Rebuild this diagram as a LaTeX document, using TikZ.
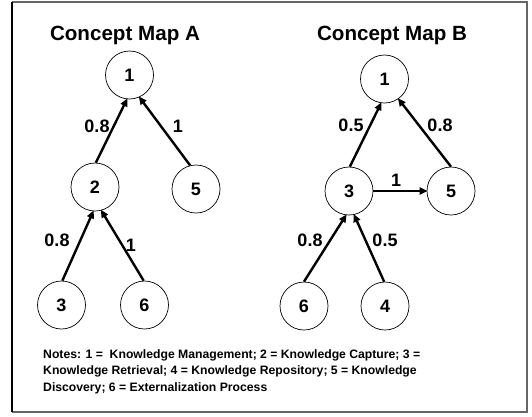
\documentclass[tikz,border=0pt]{standalone}
\usepackage{fontspec}
\setmainfont{Liberation Sans}
\usetikzlibrary{arrows.meta}
\begin{document}
\begin{tikzpicture}[x=1pt,y=-1pt,
  concept/.style={circle,draw,line width=0.7pt,minimum size=48pt,inner sep=0pt,
    font=\fontsize{18}{18}\selectfont\bfseries},
  link/.style={line width=2.4pt,-{Triangle[length=8pt,width=7pt]},shorten >=-1pt},
  weight/.style={font=\fontsize{18}{18}\selectfont\bfseries,inner sep=0pt},
  maptitle/.style={font=\fontsize{20.6}{20.6}\selectfont\bfseries,inner sep=0pt,anchor=base}]
\useasboundingbox (0,0) rectangle (532,416);
% frame
\draw[line width=1.3pt,gray!80!black] (12,2) -- (527,2) -- (527,412) -- (12,412);
\draw[line width=1.3pt,black] (12,2) -- (12,412);

% map A
\node[maptitle] (ta) at (125,40) {Concept Map A};
\node[concept] (a1) at (129.5,75) {1};
\node[concept] (a2) at (95,187) {2};
\node[concept] (a5) at (196,189) {5};
\node[concept] (a3) at (61.5,305) {3};
\node[concept] (a6) at (144.5,305) {6};
\draw[link] (a2.88) -- (a1.-96);
\draw[link] (a5.104) -- (a1.-66);
\draw[link] (a3.88) -- (a2.-94);
\draw[link] (a6.92) -- (a2.-75);
\node[weight] (wa21) at (97,126) {0.8};
\node[weight] (wa51) at (178,126) {1};
\node[weight] (wa32) at (57,240) {0.8};
\node[weight] (wa62) at (131,245) {1};

% map B
\node[maptitle] (tb) at (392,40) {Concept Map B};
\node[concept] (b1) at (384.5,79) {1};
\node[concept] (b3) at (349,191) {3};
\node[concept] (b5) at (451,191) {5};
\node[concept] (b6) at (304,306) {6};
\node[concept] (b4) at (385,306) {4};
\draw[link] (b3.88) -- (b1.-98);
\draw[link] (b5.90) -- (b1.-55);
\draw[link] (b3.east) -- (b5.west);
\draw[link] (b6.90) -- (b3.-97);
\draw[link] (b4.92) -- (b3.-78);
\node[weight] (wb31) at (351,125) {0.5};
\node[weight] (wb51) at (440,125) {0.8};
\node[weight] (wb35) at (396,180) {1};
\node[weight] (wb63) at (310,240) {0.8};
\node[weight] (wb43) at (385,240) {0.5};

% legend
\node[anchor=north west,inner sep=0pt,align=left,
  font=\fontsize{12.2}{16.7}\selectfont\bfseries] (notes) at (43,349)
  {Notes: 1 =~ Knowledge Management; 2 = Knowledge Capture; 3 =\\
   Knowledge Retrieval; 4 = Knowledge Repository; 5 = Knowledge\\
   Discovery; 6 = Externalization Process};
\end{tikzpicture}
\end{document}
